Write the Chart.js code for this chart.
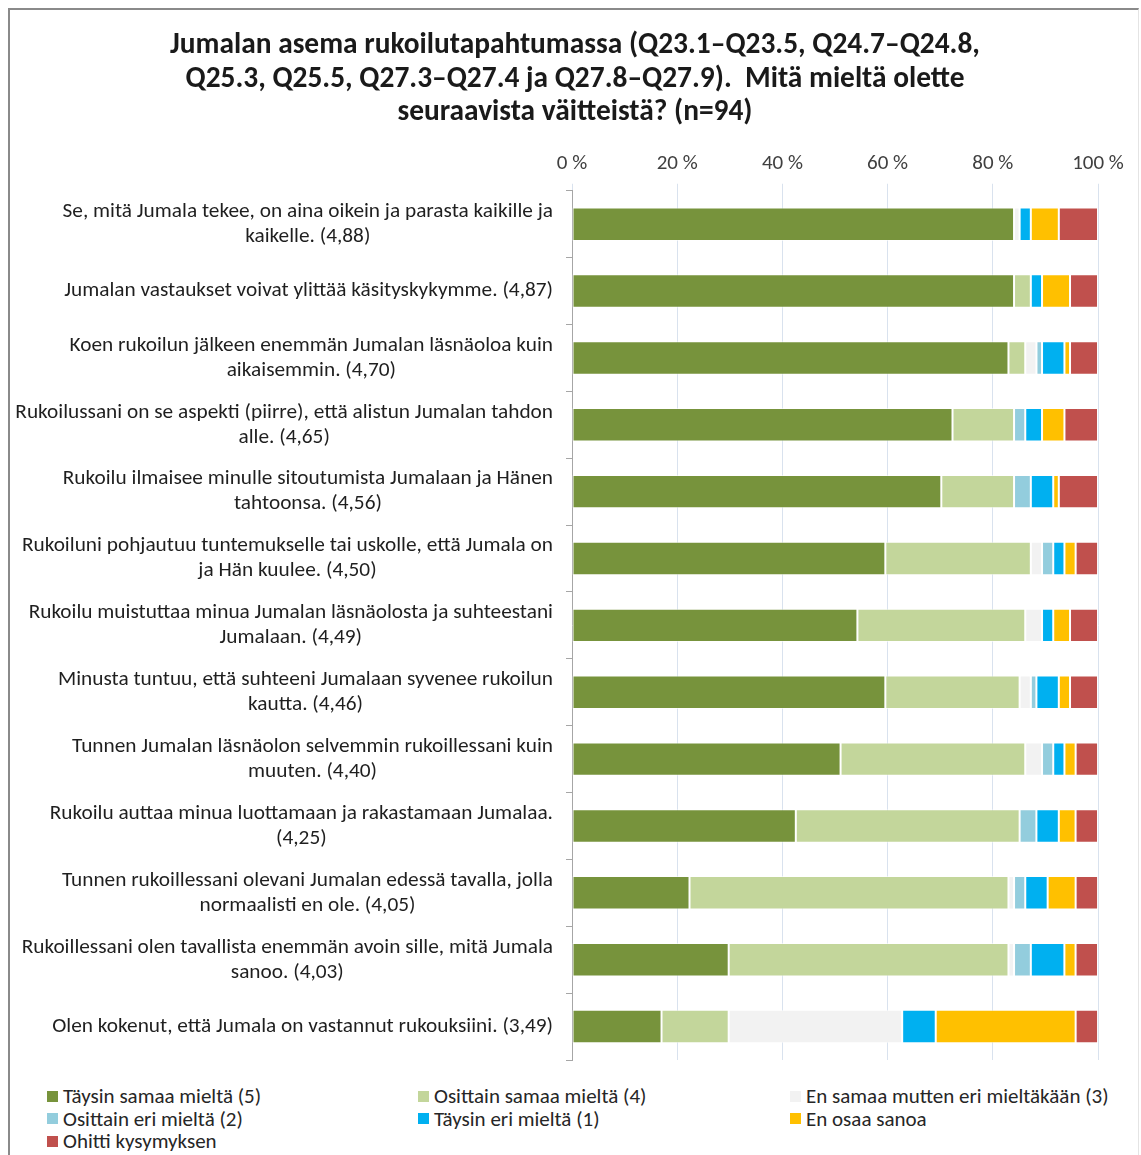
<!DOCTYPE html>
<html>
<head>
<meta charset="utf-8">
<script src="https://cdn.jsdelivr.net/npm/chart.js@4/dist/chart.umd.min.js"></script>
<style>
body{margin:0;background:#fff}
#wrap{position:relative;width:1141px;height:1155px;overflow:hidden;font-family:Calibri,Carlito,"Open Sans",sans-serif}
#frame{position:absolute;left:8px;top:8px;width:1131px;height:1170px;border:2px solid #8a8a8a;border-right:1px solid #e4e4e4;box-sizing:border-box}
#c{position:absolute;left:0;top:0}
#legend{position:absolute;left:47px;top:1085px;display:grid;grid-template-columns:371px 372px 330px;font-size:21px;color:#262626}
#legend div{display:flex;align-items:center;height:22.5px;line-height:22px;white-space:nowrap}
#legend span{display:inline-block;width:11px;height:11px;margin-right:5px}
</style>
</head>
<body>
<div id="wrap">
<div id="frame"></div>
<canvas id="c" width="1141" height="1075"></canvas>
<div id="legend"></div>
</div>
<script>
const titleLines=[
  'Jumalan asema rukoilutapahtumassa (Q23.1–Q23.5, Q24.7–Q24.8,',
  'Q25.3, Q25.5, Q27.3–Q27.4 ja Q27.8–Q27.9).  Mitä mieltä olette',
  'seuraavista väitteistä? (n=94)'
]
const categories=[
  ['Se, mitä Jumala tekee, on aina oikein ja parasta kaikille ja','kaikelle. (4,88)'],
  ['Jumalan vastaukset voivat ylittää käsityskykymme. (4,87)'],
  ['Koen rukoilun jälkeen enemmän Jumalan läsnäoloa kuin','aikaisemmin. (4,70)'],
  ['Rukoilussani on se aspekti (piirre), että alistun Jumalan tahdon','alle. (4,65)'],
  ['Rukoilu ilmaisee minulle sitoutumista Jumalaan ja Hänen','tahtoonsa. (4,56)'],
  ['Rukoiluni pohjautuu tuntemukselle tai uskolle, että Jumala on','ja Hän kuulee. (4,50)'],
  ['Rukoilu muistuttaa minua Jumalan läsnäolosta ja suhteestani','Jumalaan. (4,49)'],
  ['Minusta tuntuu, että suhteeni Jumalaan syvenee rukoilun','kautta. (4,46)'],
  ['Tunnen Jumalan läsnäolon selvemmin rukoillessani kuin','muuten. (4,40)'],
  ['Rukoilu auttaa minua luottamaan ja rakastamaan Jumalaa.','(4,25)'],
  ['Tunnen rukoillessani olevani Jumalan edessä tavalla, jolla','normaalisti en ole. (4,05)'],
  ['Rukoillessani olen tavallista enemmän avoin sille, mitä Jumala','sanoo. (4,03)'],
  ['Olen kokenut, että Jumala on vastannut rukouksiini. (3,49)']
]
const seriesNames=[
  'Täysin samaa mieltä (5)','Osittain samaa mieltä (4)','En samaa mutten eri mieltäkään (3)',
  'Osittain eri mieltä (2)','Täysin eri mieltä (1)','En osaa sanoa','Ohitti kysymyksen'
]
const colors=['#77933C','#C3D69B','#F2F2F2','#93CDDD','#00B0F0','#FFC000','#C0504D']

// percentages
const taysinSamaa=[84.04,84.04,82.98,72.34,70.21,59.57,54.26,59.57,51.06,42.55,22.34,29.79,17.02]
const osittainSamaa=[0,3.19,3.19,11.70,13.83,27.66,31.91,25.53,35.11,42.55,60.64,53.19,12.77]
const enSamaaEnEri=[1.06,0,2.13,0,0,2.13,3.19,2.13,3.19,0,1.06,1.06,32.98]
const osittainEri=[0,0,1.06,2.13,3.19,2.13,0,1.06,2.13,3.19,2.13,3.19,0]
const taysinEri=[2.13,2.13,4.26,3.19,4.26,2.13,2.13,4.26,2.13,4.26,4.26,6.38,6.38]
const enOsaa=[5.32,5.32,1.06,4.26,1.06,2.13,3.19,2.13,2.13,3.19,5.32,2.13,26.60]
const ohitti=[7.45,5.32,5.32,6.38,7.45,4.26,5.32,5.32,4.26,4.26,4.26,4.26,4.26]
const xTicks=[0,20,40,60,80,100]

const FONT='Calibri, Carlito, "Open Sans", sans-serif'
const series=[taysinSamaa,osittainSamaa,enSamaaEnEri,osittainEri,taysinEri,enOsaa,ohitti]

const labelPlugin={
  id:'wrappedLabels',
  afterDraw(chart){
    const c=chart.ctx, ys=chart.scales.y
    c.save()
    c.font='21.3px '+FONT
    c.fillStyle='#1f1f1f'
    c.textAlign='center'
    c.textBaseline='middle'
    const right=chart.chartArea.left-19
    chart.data.labels.forEach((lines,i)=>{
      const y=ys.getPixelForValue(i)
      const w=Math.max(...lines.map(l=>c.measureText(l).width))
      lines.forEach((l,j)=>{
        c.fillText(l,right-w/2,y+(j-(lines.length-1)/2)*25)
      })
    })
    c.restore()
  }
}

new Chart(document.getElementById('c'),{
  type:'bar',
  data:{
    labels:categories,
    datasets:series.map((d,i)=>({
      label:seriesNames[i],
      data:d,
      backgroundColor:colors[i],
      borderColor:'rgba(255,255,255,0.55)',
      borderWidth:1,
      borderSkipped:false,
      categoryPercentage:1,
      barPercentage:0.5
    }))
  },
  options:{
    indexAxis:'y',
    responsive:false,
    animation:false,
    layout:{padding:{left:52,right:43,top:0,bottom:15}},
    plugins:{
      legend:{display:false},
      tooltip:{enabled:false},
      title:{
        display:true,
        text:titleLines,
        color:'#1a1a1a',
        font:{family:FONT,size:29.4,weight:'bold',lineHeight:1.14},
        padding:{top:29,bottom:15}
      }
    },
    scales:{
      x:{
        position:'top',
        stacked:true,
        min:0,max:100,
        afterBuildTicks:s=>{s.ticks=xTicks.map(v=>({value:v}))},
        ticks:{callback:v=>v+' %',color:'#404040',font:{family:FONT,size:21},padding:7,maxRotation:0},
        grid:{color:'#D9E2EE',tickLength:7},
        border:{display:false}
      },
      y:{
        stacked:true,
        afterFit:s=>{s.width=520},
        ticks:{display:false},
        grid:{drawOnChartArea:false,drawTicks:true,tickLength:6,color:'#A6A6A6',offset:true},
        border:{display:true,color:'#A6A6A6',width:1}
      }
    }
  },
  plugins:[labelPlugin]
})

const legend=document.getElementById('legend')
seriesNames.forEach((n,i)=>{
  const d=document.createElement('div')
  d.innerHTML='<span style="background:'+colors[i]+'"></span>'+n
  legend.appendChild(d)
})
</script>
</body>
</html>
